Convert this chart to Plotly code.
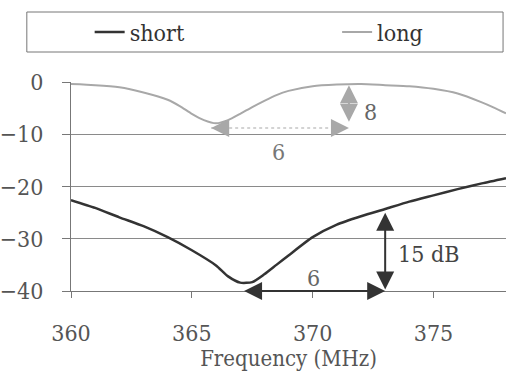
import plotly.graph_objects as go

# ---- data ----
freq_short = [360, 361, 362, 363, 364, 365, 366, 366.5, 367, 367.5, 368, 368.5,
              369, 370, 371, 372, 373, 374, 375, 376, 377, 378]
s11_short = [-22.6, -24.1, -25.9, -27.6, -29.7, -32.2, -35.1, -37.2, -38.4, -38.3,
             -36.8, -35.0, -33.2, -29.7, -27.3, -25.7, -24.3, -22.9, -21.7, -20.5,
             -19.4, -18.4]

freq_long = [360, 361, 362, 363, 364, 364.5, 365, 365.5, 366, 366.5, 367, 367.5,
             368, 368.5, 369, 370, 371, 372, 373, 374, 375, 376, 377, 377.5, 378]
s11_long = [-0.4, -0.6, -1.0, -2.0, -3.4, -4.6, -6.1, -7.3, -7.9, -7.3, -6.1, -4.8,
            -3.6, -2.5, -1.7, -0.8, -0.5, -0.4, -0.6, -0.8, -1.3, -2.2, -3.9, -4.9,
            -6.0]

x_ticks = [360, 365, 370, 375]
y_ticks = [0, -10, -20, -30, -40]

# annotation geometry (data units)
bw_short = [367.1, 373.0]      # horizontal 6 MHz span, short
bw_short_y = -40
depth_short_x = 373.0          # vertical 15 dB span
depth_short_y = [-25.0, -40]
bw_long = [365.8, 371.5]       # horizontal 6 MHz span, long
bw_long_y = -8.8
depth_long_x = 371.5           # vertical 8 dB span
depth_long_y = [-0.6, -7.9]

DARK = "#333333"
LIGHT = "#a8a8a8"
FONT = "DejaVu Serif Condensed, DejaVu Serif"

fig = go.Figure()
fig.add_trace(go.Scatter(x=freq_short, y=s11_short, mode="lines", name="short",
                         legend="legend",
                         line=dict(color=DARK, width=2.5, shape="spline", smoothing=0.6)))
fig.add_trace(go.Scatter(x=freq_long, y=s11_long, mode="lines", name="long",
                         legend="legend2",
                         line=dict(color=LIGHT, width=2, shape="spline", smoothing=0.6)))

# dotted line of the long bandwidth arrow
fig.add_shape(type="line", x0=bw_long[0], x1=bw_long[1], y0=bw_long_y, y1=bw_long_y,
              xref="x", yref="y", line=dict(color=LIGHT, width=1.2, dash="dot"))

anns = []
def arrow(x, y, ax, ay, color, both=True):
    d = dict(x=x, y=y, ax=ax, ay=ay, xref="x", yref="y", axref="x", ayref="y",
             text="", showarrow=True, arrowhead=2, arrowsize=1.8, arrowwidth=2,
             arrowcolor=color)
    if both:
        d.update(arrowside="end+start", startarrowhead=2, startarrowsize=1.8)
    return d

anns.append(arrow(bw_short[1], bw_short_y, bw_short[0], bw_short_y, DARK))
anns.append(arrow(depth_short_x, depth_short_y[0], depth_short_x, depth_short_y[1], DARK))
anns.append(arrow(depth_long_x, depth_long_y[0], depth_long_x, depth_long_y[1], LIGHT))
# long bandwidth arrow heads (line drawn dotted separately)
anns.append(arrow(bw_long[0], bw_long_y, bw_long[0] + 0.6, bw_long_y, LIGHT, both=False))
anns.append(arrow(bw_long[1], bw_long_y, bw_long[1] - 0.6, bw_long_y, LIGHT, both=False))

labels = [
    dict(x=368.6, y=-13.4, text="6", color="#777777"),
    dict(x=372.4, y=-5.7, text="8", color="#666666"),
    dict(x=370.05, y=-37.5, text="6", color="#666666"),
    dict(x=374.8, y=-33.0, text="15 dB", color="#444444"),
]
for lb in labels:
    anns.append(dict(x=lb["x"], y=lb["y"], xref="x", yref="y", text=lb["text"],
                     showarrow=False, font=dict(family=FONT, size=23, color=lb["color"])))

leg_common = dict(orientation="h", xanchor="left", y=1.239, yanchor="middle",
                  bgcolor="rgba(0,0,0,0)", borderwidth=0,
                  font=dict(family=FONT, size=23, color="#333333"))
fig.update_layout(
    width=506, height=373,
    margin=dict(l=63, r=0, t=82, b=82),
    paper_bgcolor="white", plot_bgcolor="white",
    font=dict(family=FONT, size=23, color="#555555"),
    showlegend=True,
    legend=dict(x=(82 - 63) / 443, **leg_common),
    legend2=dict(x=(334 - 63) / 443, **leg_common),
    annotations=anns,
)
# legend frame
fig.add_shape(type="rect", xref="paper", yref="paper",
              x0=(18 - 63) / 443, x1=(503 - 63) / 443,
              y0=(291 - 52) / 209, y1=(291 - 12) / 209,
              line=dict(color="#777777", width=1))

fig.update_xaxes(range=[360, 378], tickvals=x_ticks, ticks="outside", ticklen=6,
                 tickcolor="#777777", showline=True, linecolor="#777777", linewidth=1,
                 showgrid=False, zeroline=False, ticklabelstandoff=15,
                 title=dict(text="Frequency (MHz)", standoff=5,
                            font=dict(family=FONT, size=22, color="#555555")))
fig.update_yaxes(range=[-40, 0], tickvals=y_ticks, ticks="outside", ticklen=8,
                 tickcolor="#777777", showline=True, linecolor="#777777", linewidth=1,
                 showgrid=True, gridcolor="#8a8a8a", gridwidth=1, zeroline=False,
                 ticklabelstandoff=14)

fig.write_html("out.html")
